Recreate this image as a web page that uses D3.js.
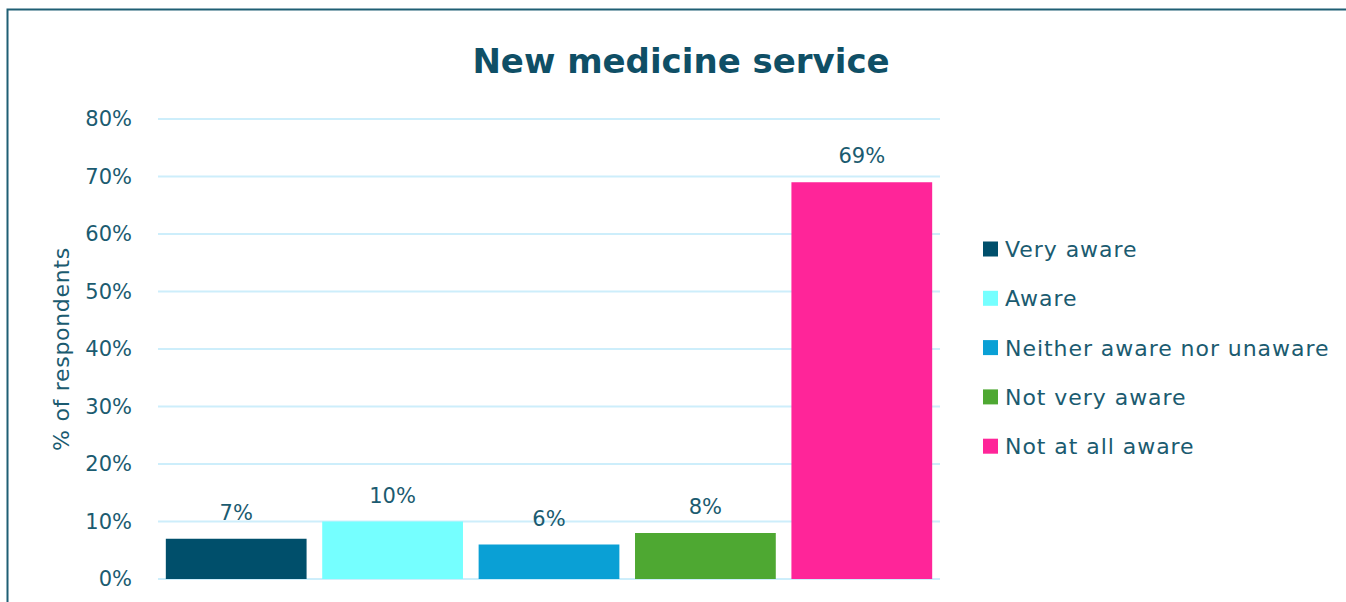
<!DOCTYPE html>
<html>
<head>
<meta charset="utf-8">
<script src="https://cdn.jsdelivr.net/npm/d3@7"></script>
<style>
  html, body { margin: 0; padding: 0; background: #ffffff; }
  svg { display: block; }
  text { font-family: "DejaVu Sans", "Noto Sans", sans-serif; }
</style>
</head>
<body>
<svg id="chart" width="1346" height="602"></svg>
<script>
// Awareness of the New Medicine Service
const categories = ["Very aware", "Aware", "Neither aware nor unaware", "Not very aware", "Not at all aware"];
const values = [7, 10, 6, 8, 69];
const colors = ["#004f6b", "#75ffff", "#0aa0d5", "#4ea832", "#ff2599"];
const yTicks = [0, 10, 20, 30, 40, 50, 60, 70, 80];
const title = "New medicine service";
const yLabel = "% of respondents";

const textColor = "#1b5b70";
const svg = d3.select("#chart");

// outer frame
svg.append("rect")
  .attr("x", 7.5).attr("y", 9.5)
  .attr("width", 1360).attr("height", 620)
  .attr("fill", "none").attr("stroke", "#1f5f74").attr("stroke-width", 2);

const plot = { left: 158, right: 940, top: 119, bottom: 579 };

const x = d3.scaleBand().domain(categories)
  .range([plot.left, plot.right]).paddingInner(0.1).paddingOuter(0.05);
const y = d3.scaleLinear().domain([0, 80]).range([plot.bottom, plot.top]);

// gridlines
svg.append("g").selectAll("line").data(yTicks).join("line")
  .attr("x1", plot.left).attr("x2", plot.right)
  .attr("y1", d => y(d)).attr("y2", d => y(d))
  .attr("stroke", "#cdeefb").attr("stroke-width", 2);

// y axis labels
const yAxis = d3.axisLeft(y).tickValues(yTicks).tickFormat(d => d + "%").tickSize(0).tickPadding(26);
const ya = svg.append("g").attr("transform", `translate(${plot.left},0)`).call(yAxis);
ya.select(".domain").remove();
ya.selectAll("text")
  .attr("fill", textColor).style("font-size", "21px")
  .style("font-family", "'DejaVu Sans', sans-serif");

// bars
svg.append("g").selectAll("rect").data(values).join("rect")
  .attr("x", (d, i) => x(categories[i]))
  .attr("width", x.bandwidth())
  .attr("y", d => y(d))
  .attr("height", d => y(0) - y(d))
  .attr("fill", (d, i) => colors[i]);

// value labels
svg.append("g").selectAll("text").data(values).join("text")
  .attr("x", (d, i) => x(categories[i]) + x.bandwidth() / 2)
  .attr("y", d => y(d) - 19)
  .attr("text-anchor", "middle")
  .attr("fill", textColor).style("font-size", "21px")
  .text(d => d + "%");

// title
svg.append("text")
  .attr("x", 681).attr("y", 73)
  .attr("text-anchor", "middle")
  .attr("fill", "#0f4f66")
  .style("font-size", "34px").style("font-weight", "bold")
  .text(title);

// y axis title
svg.append("text")
  .attr("transform", `translate(69,349) rotate(-90)`)
  .attr("text-anchor", "middle")
  .attr("fill", textColor).style("font-size", "22px")
  .style("letter-spacing", "0.7px")
  .text(yLabel);

// legend
const legend = svg.append("g").selectAll("g").data(categories).join("g")
  .attr("transform", (d, i) => `translate(983,${249 + i * 49.3})`);
legend.append("rect")
  .attr("x", 0).attr("y", -7.5).attr("width", 15).attr("height", 15)
  .attr("fill", (d, i) => colors[i]);
legend.append("text")
  .attr("x", 22).attr("y", 8)
  .attr("fill", textColor).style("font-size", "22px")
  .style("letter-spacing", "0.95px")
  .text(d => d);
</script>
</body>
</html>
